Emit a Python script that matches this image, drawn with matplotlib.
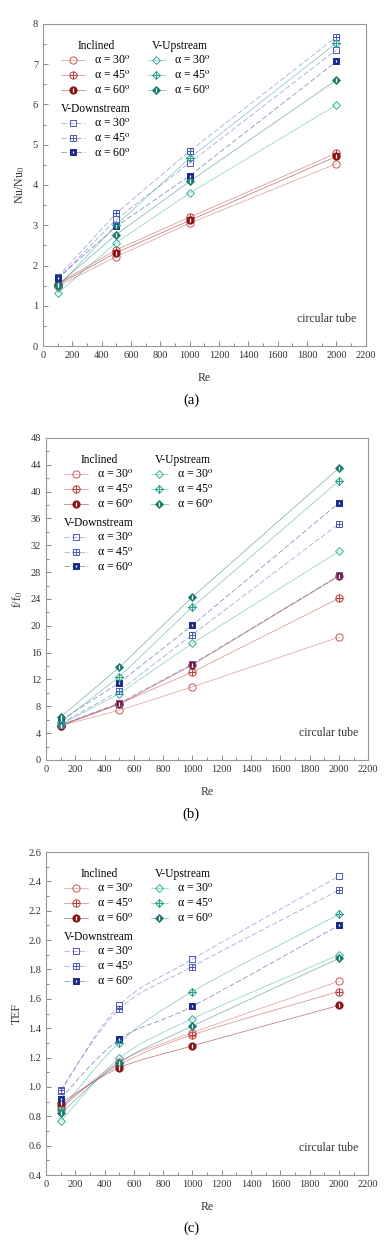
import matplotlib
matplotlib.use("Agg")
import matplotlib.pyplot as plt
import numpy as np
from matplotlib.path import Path
from matplotlib.patches import PathPatch
from matplotlib.lines import Line2D
from matplotlib.ticker import MultipleLocator

plt.rcParams["font.family"] = ["Liberation Serif", "DejaVu Serif"]
plt.rcParams["mathtext.fontset"] = "stix"

re_vals = [100, 500, 1000, 2000]
angles = ["30", "45", "60"]

# (a) Nu/Nu0
nu_inclined = [[1.48, 2.22, 3.05, 4.53], [1.55, 2.39, 3.20, 4.79], [1.52, 2.32, 3.12, 4.71]]
nu_vdown = [[1.65, 3.15, 4.55, 7.36], [1.71, 3.30, 4.84, 7.68], [1.68, 2.97, 4.23, 7.07]]
nu_vup = [[1.31, 2.57, 3.80, 5.99], [1.46, 3.01, 4.67, 7.53], [1.52, 2.77, 4.09, 6.61]]

# (b) f/f0
f_inclined = [[5.1, 7.4, 10.9, 18.3], [5.2, 8.4, 13.1, 24.1], [5.1, 8.3, 14.2, 27.4]]
f_vdown = [[5.2, 8.5, 14.3, 27.5], [5.4, 10.3, 18.7, 35.2], [5.9, 11.5, 20.1, 38.3]]
f_vup = [[5.3, 9.9, 17.4, 31.1], [5.6, 12.4, 22.8, 41.6], [6.4, 13.8, 24.3, 43.5]]

# (c) TEF
tef_inclined = [[0.85, 1.17, 1.37, 1.72], [0.87, 1.15, 1.355, 1.65], [0.89, 1.13, 1.28, 1.555]]
tef_vdown = [[0.97, 1.555, 1.87, 2.435], [0.98, 1.53, 1.82, 2.34], [0.92, 1.325, 1.55, 2.10]]
tef_vup = [[0.765, 1.195, 1.465, 1.90], [0.84, 1.30, 1.65, 2.175], [0.82, 1.165, 1.415, 1.875]]

inc_colors = ["#cc5555", "#c03a3a", "#8a1212"]
vd_colors = ["#5656c4", "#4a5ab8", "#1c2a88"]
vu_colors = ["#2eb09a", "#2aa08e", "#1a7a70"]

plus = Path([[-1, 0], [1, 0], [0, -1], [0, 1]],
            [Path.MOVETO, Path.LINETO, Path.MOVETO, Path.LINETO])
sq = Path([[-1, -1], [1, -1], [1, 1], [-1, 1], [-1, -1]],
          [Path.MOVETO, Path.LINETO, Path.LINETO, Path.LINETO, Path.CLOSEPOLY])
dia = Path([[0, -1], [1, 0], [0, 1], [-1, 0], [0, -1]],
           [Path.MOVETO, Path.LINETO, Path.LINETO, Path.LINETO, Path.CLOSEPOLY])
circ = Path.unit_circle()


def markers_for(shape):
    return [shape, Path.make_compound_path(shape, plus), shape]


groups = [
    ("Inclined", "-", inc_colors, markers_for(circ), 5.2),
    ("V-Downstream", (0, (7, 3)), vd_colors, markers_for(sq), 4.3),
    ("V-Upstream", "-", vu_colors, markers_for(dia), 5.6),
]


def smooth_path(x, y):
    # Catmull-Rom curve through the points, as cubic Bezier segments
    pts = np.column_stack([x, y]).astype(float)
    ext = np.vstack([pts[0], pts, pts[-1]])
    verts = [pts[0]]
    codes = [Path.MOVETO]
    for i in range(len(pts) - 1):
        p0, p1, p2, p3 = ext[i], ext[i + 1], ext[i + 2], ext[i + 3]
        verts += [p1 + (p2 - p0) / 6, p2 - (p3 - p1) / 6, p2]
        codes += [Path.CURVE4] * 3
    return Path(verts, codes)


def draw_panel(ax, data, ylabel, ylim, ymajor, yminor, smooth=False):
    handles = {}
    for (gname, ls, colors, mks, ms), series in zip(groups, data):
        hs = []
        for k, vals in enumerate(series):
            c = colors[k]
            if smooth:
                ax.add_patch(PathPatch(smooth_path(re_vals, vals), fill=False,
                                       edgecolor=c, lw=0.55, alpha=0.55,
                                       linestyle=ls))
            else:
                ax.plot(re_vals, vals, color=c, lw=0.55, alpha=0.55, linestyle=ls)
            filled = k == 2
            ax.plot(re_vals, vals, linestyle="none", marker=mks[k], ms=ms,
                    mec=c, mfc=c if filled else "none", mew=0.7, zorder=3)
            if filled:
                ax.plot(re_vals, vals, linestyle="none", marker="|", ms=ms * 0.5,
                        mec="white", mew=0.9, zorder=4)
            h_line = Line2D([], [], color=c, lw=0.55, alpha=0.55, linestyle=ls)
            h_mark = Line2D([], [], linestyle="none", marker=mks[k], ms=ms, mec=c,
                            mfc=c if filled else "none", mew=0.7)
            h = [h_line, h_mark]
            if filled:
                h.append(Line2D([], [], linestyle="none", marker="|", ms=ms * 0.5,
                                mec="white", mew=0.9))
            hs.append(tuple(h))
        handles[gname] = hs

    labels = ["α = %s$^{\\rm o}$" % a for a in angles]
    kw = dict(frameon=False, fontsize=8.6, handletextpad=0.8,
              labelspacing=0.22, borderpad=0.2, title_fontsize=8.3, loc="upper left")
    leg1 = ax.legend(handles["Inclined"], labels, title="Inclined",
                     handlelength=2.0, bbox_to_anchor=(0.03, 0.975), **kw)
    ax.add_artist(leg1)
    leg2 = ax.legend(handles["V-Upstream"], labels, title="V-Upstream",
                     handlelength=1.4, bbox_to_anchor=(0.3, 0.975), **kw)
    ax.add_artist(leg2)
    ax.legend(handles["V-Downstream"], labels, title="V-Downstream",
              handlelength=2.0, bbox_to_anchor=(0.03, 0.78), **kw)

    ax.text(0.97, 0.065, "circular tube", transform=ax.transAxes, ha="right",
            va="bottom", fontsize=8.5, color="#333333")

    ax.set_xlim(0, 2200)
    ax.set_ylim(*ylim)
    ax.xaxis.set_major_locator(MultipleLocator(200))
    ax.xaxis.set_minor_locator(MultipleLocator(100))
    ax.yaxis.set_major_locator(MultipleLocator(ymajor))
    ax.yaxis.set_minor_locator(MultipleLocator(yminor))
    ax.tick_params(which="both", direction="in", colors="#777777",
                   labelcolor="#333333", labelsize=7.5, width=0.6)
    ax.tick_params(which="major", length=3.5)
    ax.tick_params(which="minor", length=2)
    for s in ax.spines.values():
        s.set_color("#999999")
        s.set_linewidth(0.8)
    ax.set_xlabel("Re", fontsize=8.5, color="#333333", labelpad=9)
    ax.set_ylabel(ylabel, fontsize=8.5, color="#333333", labelpad=4)


fig = plt.figure(figsize=(3.9, 12.42), dpi=100)
ax_a = fig.add_axes([0.110, 0.7214, 0.828, 0.2593])
ax_b = fig.add_axes([0.118, 0.3881, 0.826, 0.2593])
ax_c = fig.add_axes([0.118, 0.0539, 0.826, 0.2601])

draw_panel(ax_a, [nu_inclined, nu_vdown, nu_vup], r"Nu/Nu$_0$", (0, 8), 1, 0.5)
draw_panel(ax_b, [f_inclined, f_vdown, f_vup], r"f/f$_0$", (0, 48), 4, 2)
draw_panel(ax_c, [tef_inclined, tef_vdown, tef_vup], "TEF", (0.4, 2.6), 0.2, 0.1,
           smooth=True)

fig.text(0.49, 0.678, "(a)", ha="center", va="center", fontsize=10.5)
fig.text(0.49, 0.344, "(b)", ha="center", va="center", fontsize=10.5)
fig.text(0.49, 0.011, "(c)", ha="center", va="center", fontsize=10.5)

fig.savefig("out.png", dpi=100)
